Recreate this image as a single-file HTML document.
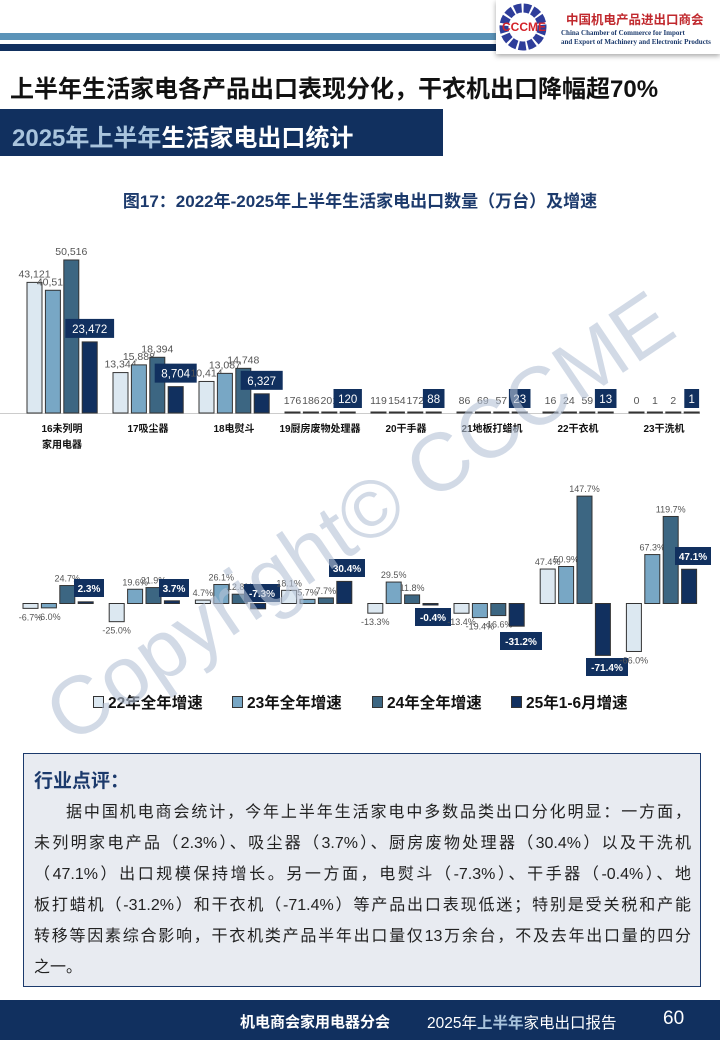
<!DOCTYPE html>
<html><head><meta charset="utf-8">
<style>
*{margin:0;padding:0;box-sizing:border-box}
body{width:720px;height:1040px;position:relative;overflow:hidden;background:#fff;font-family:"Liberation Sans","Noto Sans CJK SC",sans-serif}
.abs{position:absolute}
#svg{position:absolute;left:0;top:0}
.box{position:absolute;left:23px;top:753px;width:678px;height:234px;background:#e8ebf1;border:1px solid #1c3a6c;z-index:3}
.box h3{position:absolute;left:10px;top:12px;font-size:19px;color:#1c3a6c;font-weight:bold}
.ln{position:absolute;left:10px;width:657px;font-size:16px;color:#222;text-align:justify;text-align-last:justify;white-space:nowrap;height:20px;line-height:20px}
</style></head><body>
<div class="abs" style="left:0;top:33px;width:500px;height:7px;background:#5b93b8"></div>
<div class="abs" style="left:0;top:44px;width:500px;height:7px;background:#11305f"></div>
<div class="abs" style="left:496px;top:0;width:224px;height:54px;background:#fff;box-shadow:0 2px 5px rgba(0,0,0,.35)">
 <svg width="60" height="54" style="position:absolute;left:0;top:0">
  <circle cx="27" cy="27" r="19" fill="none" stroke="#2e3d9a" stroke-width="9" stroke-dasharray="7 2"/>
  <text x="28" y="31" text-anchor="middle" font-size="12" font-weight="bold" fill="#d4232a" font-family="Liberation Sans">CCCME</text>
 </svg>
 <div class="abs" style="left:70px;top:9px;font-size:12.5px;font-weight:bold;color:#c0282d;white-space:nowrap">中国机电产品进出口商会</div>
 <div class="abs" style="left:65px;top:29px;font-size:7px;color:#1c3a6c;font-family:'Liberation Serif',serif;white-space:nowrap;font-weight:bold">China Chamber of Commerce for Import</div>
 <div class="abs" style="left:65px;top:38px;font-size:7px;color:#1c3a6c;font-family:'Liberation Serif',serif;white-space:nowrap;font-weight:bold">and Export of Machinery and Electronic Products</div>
</div>
<div class="abs" style="left:10px;top:69px;font-size:24px;font-weight:bold;color:#111;white-space:nowrap">上半年生活家电各产品出口表现分化，干衣机出口降幅超70%</div>
<div class="abs" style="left:0;top:109px;width:443px;height:47px;background:#11305f"></div>
<div class="abs" style="left:12px;top:118px;font-size:24px;font-weight:bold;color:#fff;white-space:nowrap"><span style="color:#a9c4dd">2025年上半年</span>生活家电出口统计</div>
<div class="abs" style="left:0;top:187px;width:720px;text-align:center;font-size:17px;font-weight:bold;color:#1c3a6c">图17：2022年-2025年上半年生活家电出口数量（万台）及增速</div>

<svg id="svg" width="720" height="1040" xmlns="http://www.w3.org/2000/svg"></svg>

<div class="box">
 <h3>行业点评：</h3>
 <div class="ln" style="top:49px;padding-left:32px">据中国机电商会统计，今年上半年生活家电中多数品类出口分化明显：一方面，</div>
 <div class="ln" style="top:80px">未列明家电产品（2.3%）、吸尘器（3.7%）、厨房废物处理器（30.4%）以及干洗机</div>
 <div class="ln" style="top:111px">（47.1%）出口规模保持增长。另一方面，电熨斗（-7.3%）、干手器（-0.4%）、地</div>
 <div class="ln" style="top:142px">板打蜡机（-31.2%）和干衣机（-71.4%）等产品出口表现低迷；特别是受关税和产能</div>
 <div class="ln" style="top:173px">转移等因素综合影响，干衣机类产品半年出口量仅13万余台，不及去年出口量的四分</div>
 <div class="ln" style="top:204px;text-align-last:left">之一。</div>
</div>
<div class="abs" style="left:0;top:1000px;width:720px;height:40px;background:#11305f;z-index:4"></div>
<div class="abs" style="left:240px;top:1011px;font-size:15px;font-weight:bold;color:#fff;z-index:5;white-space:nowrap">机电商会家用电器分会</div>
<div class="abs" style="left:427px;top:1011px;font-size:15.5px;color:#fff;z-index:5;white-space:nowrap">2025年<b style="color:#a9c4dd">上半年</b>家电出口报告</div>
<div class="abs" style="left:663px;top:1008px;font-size:19px;color:#fff;z-index:5">60</div>

<script>
var s=document.getElementById('svg'),h='';
var C=['#dce8f1','#78a7c5','#3c6682','#11305f'];
function t(x,y,str,o){o=o||{};h+='<text x="'+x+'" y="'+y+'" text-anchor="middle" font-size="'+(o.fs||10)+'" fill="'+(o.c||'#444')+'"'+(o.b?' font-weight="bold"':'')+' font-family="Liberation Sans,Noto Sans CJK SC,sans-serif">'+str+'</text>';}
function r(x,y,w,hh,f,st){h+='<rect x="'+x+'" y="'+y+'" width="'+w+'" height="'+hh+'" fill="'+f+'"'+(st?' stroke="#333" stroke-width="1"':'')+'/>';}
var topData=[[43121,40516,50516,23472],[13344,15888,18394,8704],[10414,13087,14748,6327],[176,186,201,120],[119,154,172,88],[86,69,57,23],[16,24,59,13],[0,1,2,1]];
var names=['16未列明','17吸尘器','18电熨斗','19厨房废物处理器','20干手器','21地板打蜡机','22干衣机','23干洗机'];
var B=413,k=0.003029;
h+='<line x1="0" y1="413.5" x2="700" y2="413.5" stroke="#ccc"/>';
for(var g=0;g<8;g++){var x0=27+86*g;
 for(var i=0;i<4;i++){var v=topData[g][i],x=x0+18.4*i,hh=Math.max(v*k,1),y=B-hh;
  r(x,y,15,hh,C[i],true);
  var lab=v.toLocaleString('en-US');
  if(i<3){t(x+7.5,Math.min(y-5,404),lab,{fs:10.5,c:'#555'});}
  else{var w=lab.length*6.8+8,bb=Math.min(y-4,409);r(x+7.5-w/2,bb-19,w,19,'#11305f');t(x+7.5,bb-5,lab,{fs:11.5,c:'#fff'});}
 }
 t(x0+35,432,names[g],{fs:10,c:'#111',b:1});
}
t(62,448,'家用电器',{fs:10,c:'#111',b:1});
var gr=[[-6.7,-6.0,24.7,2.3],[-25.0,19.6,21.9,3.7],[4.7,26.1,12.8,-7.3],[18.1,5.7,7.7,30.4],[-13.3,29.5,11.8,-0.4],[-13.4,-19.4,-16.6,-31.2],[47.4,50.9,147.7,-71.4],[-66.0,67.3,119.7,47.1]];
var bx=[[74,579],[159,579],[244,584],[329,559],[415,608],[500,632],[586,658],[675,547]];
var Z=603.5,kk=0.727;
for(var g=0;g<8;g++){var x0=23+86.2*g;
 for(var i=0;i<4;i++){var v=gr[g][i],x=x0+18.4*i,hh=Math.max(Math.abs(v)*kk,1.5),y=v>=0?Z-hh:Z;
  r(x,y,15,hh,C[i],true);
  var lab=v.toFixed(1)+'%';
  if(i<3){ if(v>=0)t(x+7.5,y-4,lab,{fs:9,c:'#555'}); else t(x+7.5,Z+hh+12,lab,{fs:9,c:'#555'});}
  else{var w=lab.length*6+6;r(bx[g][0],bx[g][1],w,18,'#11305f');t(bx[g][0]+w/2,bx[g][1]+13,lab,{fs:10,c:'#fff',b:1});}
 }
}
var lg=[[93,'22年全年增速'],[232,'23年全年增速'],[372,'24年全年增速'],[511,'25年1-6月增速']];
for(var i=0;i<4;i++){r(lg[i][0]+.5,696.5,10,11,C[i],true);h+='<text x="'+(lg[i][0]+15)+'" y="708" font-size="15.5" font-weight="bold" fill="#111" font-family="Liberation Sans,Noto Sans CJK SC,sans-serif">'+lg[i][1]+'</text>';}
h+='<text x="0" y="0" transform="translate(375,540) rotate(-34)" text-anchor="middle" font-size="82" fill="#b4c2d6" fill-opacity="0.6" font-family="Liberation Sans,sans-serif">Copyright© CCCME</text>';
s.innerHTML=h;
</script>
</body></html>
